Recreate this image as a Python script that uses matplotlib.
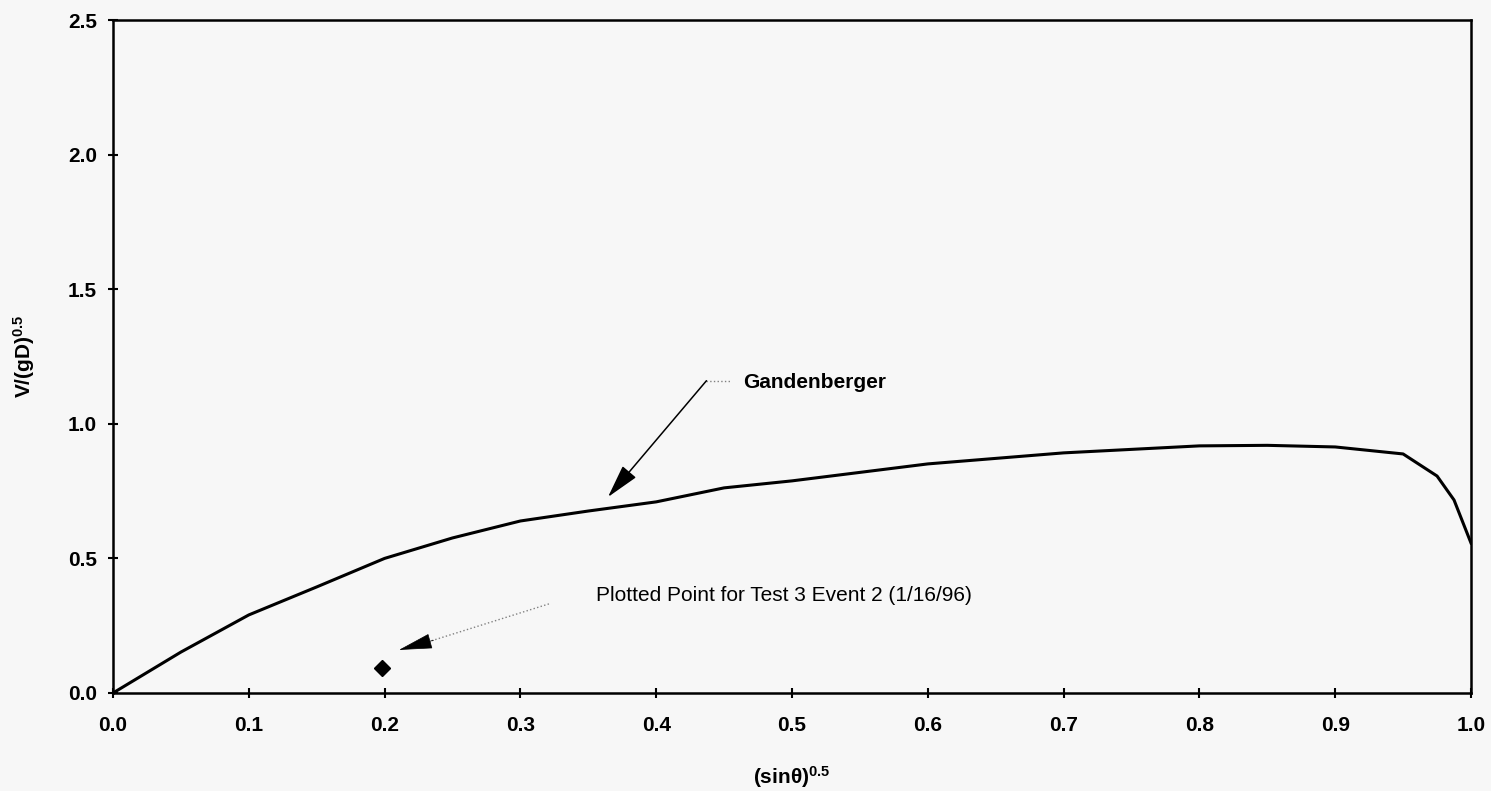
import matplotlib.pyplot as plt

plt.rcParams["font.family"] = ["Liberation Sans", "DejaVu Sans"]
plt.rcParams["mathtext.fontset"] = "custom"
plt.rcParams["mathtext.rm"] = "Liberation Sans:bold"
plt.rcParams["mathtext.bf"] = "Liberation Sans:bold"
plt.rcParams["mathtext.default"] = "bf"

BG = "#f7f7f7"

# Gandenberger curve
sin_root = [0.0, 0.05, 0.1, 0.15, 0.2, 0.25, 0.3, 0.35, 0.4, 0.45, 0.5,
            0.6, 0.7, 0.8, 0.85, 0.9, 0.95, 0.975, 0.9875, 1.0]
froude = [0.0, 0.152, 0.29, 0.394, 0.50, 0.576, 0.639, 0.676, 0.71, 0.762, 0.788,
          0.851, 0.892, 0.918, 0.92, 0.914, 0.888, 0.806, 0.717, 0.557]

# test point
point_x = [0.198]
point_y = [0.094]

x_ticks = [0.0, 0.1, 0.2, 0.3, 0.4, 0.5, 0.6, 0.7, 0.8, 0.9, 1.0]
y_ticks = [0.0, 0.5, 1.0, 1.5, 2.0, 2.5]


def main():
    fig = plt.figure(figsize=(14.91, 7.91), dpi=100, facecolor=BG)
    ax = fig.add_axes([113 / 1491, 1 - 693 / 791, 1358 / 1491, 673 / 791])
    ax.set_facecolor(BG)

    ax.plot(sin_root, froude, color="black", lw=2.2, solid_joinstyle="round")
    ax.plot(point_x, point_y, linestyle="none", marker="D", markersize=8,
            color="black")

    ax.set_xlim(0, 1)
    ax.set_ylim(0, 2.5)
    ax.set_xticks(x_ticks)
    ax.set_yticks(y_ticks)
    ax.set_xticklabels([f"{v:.1f}" for v in x_ticks], fontsize=15, fontweight="bold")
    ax.set_yticklabels([f"{v:.1f}" for v in y_ticks], fontsize=15, fontweight="bold")
    ax.tick_params(axis="x", direction="inout", length=7, width=1.5, pad=13)
    ax.tick_params(axis="y", direction="inout", length=7, width=1.5, pad=8)

    for spine in ax.spines.values():
        spine.set_linewidth(1.8)

    ax.set_xlabel("(sinθ)$^{0.5}$", fontsize=15, fontweight="bold")
    ax.set_ylabel("V/(gD)$^{0.5}$", fontsize=15, fontweight="bold")
    ax.xaxis.set_label_coords(0.5, -0.105)
    ax.yaxis.set_label_coords(-0.056, 0.5)

    # Gandenberger label
    ax.plot([0.437, 0.454], [1.160, 1.160], color="gray", lw=1, linestyle=":")
    ax.annotate("", xy=(0.3645, 0.728), xytext=(0.437, 1.160),
                arrowprops=dict(arrowstyle="-|>,head_length=2.1,head_width=0.55",
                                color="black", lw=1.1, mutation_scale=10,
                                shrinkA=0, shrinkB=0))
    ax.text(0.464, 1.153, "Gandenberger", fontsize=15, fontweight="bold",
            va="center", ha="left")

    # test point label
    ax.plot([0.321, 0.232], [0.331, 0.190], color="gray", lw=1, linestyle=":")
    ax.annotate("", xy=(0.2106, 0.160), xytext=(0.236, 0.196),
                arrowprops=dict(arrowstyle="-|>,head_length=2.2,head_width=0.5",
                                color="black", lw=0.5, mutation_scale=10,
                                shrinkA=0, shrinkB=0))
    ax.text(0.356, 0.364, "Plotted Point for Test 3 Event 2 (1/16/96)",
            fontsize=15, va="center", ha="left")

    fig.savefig("out.png", dpi=100, facecolor=BG)
    plt.close(fig)


if __name__ == "__main__":
    main()
